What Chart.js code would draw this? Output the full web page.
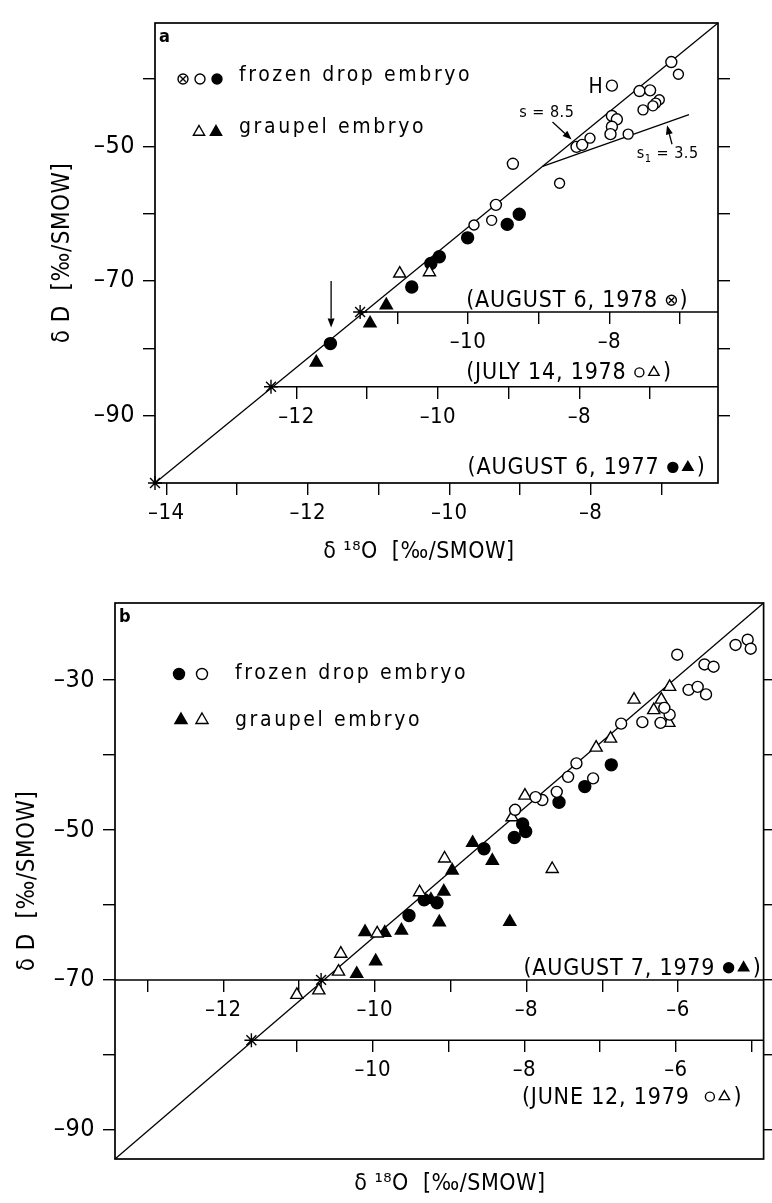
<!DOCTYPE html>
<html lang="en">
<head>
<meta charset="UTF-8">
<title>δD versus δ18O of hailstone embryos</title>
<script src="https://cdn.jsdelivr.net/npm/chart.js"></script>
<style>
  html, body { margin: 0; padding: 0; background: #fff; }
  #wrap { position: relative; width: 772px; height: 1203px; }
  canvas { position: absolute; left: 0; }
  #chartA { top: 0; }
  #chartB { top: 580px; }
</style>
</head>
<body>
<div id="wrap">
  <canvas id="chartA" width="772" height="580"></canvas>
  <canvas id="chartB" width="772" height="623"></canvas>
</div>
<script>
// ---------- panel a (values read on the AUGUST 6, 1977 axis) ----------
const aXMin = -14.16, aXMax = -6.2;
const aYMin = -100, aYMax = -31.7;
const aLineX = [-14.16, -6.2];
const aLineY = [-100, -31.7];
const aBranchX = [-8.68, -6.61];
const aBranchY = [-53.0, -45.3];
const aStarX = [-14.16, -12.52, -11.26];
const aStarY = [-100, -85.7, -74.6];
const aJulShift = 0.16, aAug78Shift = -0.265;   // offset x axes

const aAug78CrossX = [-6.76, -7.03, -7.08, -7.12, -7.26, -8.01, -7.47, -8.44, -9.65, -9.40];
const aAug78CrossY = [-39.3, -43.1, -43.6, -44.0, -44.6, -48.8, -48.2, -55.5, -61.7, -61.0];
const aJulCircX = [-6.86, -7.70, -7.31, -7.16, -7.70, -7.63, -7.70, -7.72, -8.20, -8.12, -9.10, -9.34];
const aJulCircY = [-37.5, -41.0, -41.8, -41.7, -45.5, -46.0, -47.1, -48.2, -50.1, -49.8, -52.6, -58.7];
const aJulTriX = [-10.70, -10.28];
const aJulTriY = [-68.9, -68.7];
const aAug77DotX = [-9.01, -9.18, -9.74, -10.14, -10.26, -10.53, -11.68];
const aAug77DotY = [-60.1, -61.6, -63.6, -66.4, -67.4, -70.9, -79.3];
const aAug77TriX = [-10.89, -11.12, -11.88];
const aAug77TriY = [-73.6, -76.3, -82.1];

const aTicks77 = [-14, -13, -12, -11, -10, -9, -8, -7];
const aLabels77 = [-14, -12, -10, -8];
const aTicksJul = [-12, -11, -10, -9, -8, -7];
const aLabelsJul = [-12, -10, -8];
const aTicksAug78 = [-11, -10, -9, -8, -7];
const aLabelsAug78 = [-10, -8];
const aYTicks = [-90, -80, -70, -60, -50, -40];
const aYLabels = [-90, -70, -50];

// ---------- panel b (values read on the AUGUST 7, 1979 axis) ----------
const bXMin = -13.43, bXMax = -4.87;
const bYMin = -93.9, bYMax = -19.7;
const bLineX = [-13.43, -4.87];
const bLineY = [-93.9, -19.7];
const bStarX = [-11.63, -10.71];
const bStarY = [-78.05, -70];
const bJunShift = 0.027;

const bAugDotX = [-6.88, -7.23, -7.57, -8.05, -8.01, -8.16, -8.56, -9.35, -9.18, -9.55];
const bAugDotY = [-41.3, -44.2, -46.3, -49.2, -50.2, -51.0, -52.5, -59.3, -59.7, -61.4];
const bAugTriX = [-8.71, -8.45, -8.98, -9.26, -9.09, -9.15, -10.13, -9.87, -9.65, -9.99, -10.24, -8.22];
const bAugTriY = [-51.7, -54.1, -55.4, -59.3, -58.2, -62.3, -63.6, -63.7, -63.4, -67.5, -69.2, -62.25];
const bJunCircX = [-5.08, -5.04, -5.24, -6.01, -5.65, -5.53, -5.86, -5.74, -5.63, -6.11, -6.18, -6.23,
                   -6.47, -6.75, -7.34, -7.45, -7.12, -7.60, -7.79, -7.88, -8.15];
const bJunCircY = [-24.6, -25.8, -25.3, -26.6, -27.9, -28.2, -31.3, -30.9, -31.9, -34.6, -33.7, -35.7,
                   -35.6, -35.8, -41.1, -42.9, -43.1, -44.9, -46.0, -45.6, -47.3];
const bJunTriX = [-6.11, -6.58, -6.22, -6.32, -6.12, -6.89, -7.08, -8.02, -8.19, -7.66, -9.08, -9.41,
                  -9.97, -10.45, -10.48, -11.03, -10.74];
const bJunTriY = [-30.9, -32.6, -32.6, -34.0, -35.7, -37.8, -39.0, -45.4, -48.3, -55.2, -53.8, -58.3,
                  -63.8, -66.5, -68.9, -72.0, -71.4];

const bTicksAug7 = [-13, -12, -11, -10, -9, -8, -7, -6];
const bLabelsAug7 = [-12, -10, -8, -6];
const bTicksJun = [-11, -10, -9, -8, -7, -6, -5];
const bLabelsJun = [-10, -8, -6];
const bYTicks = [-90, -80, -70, -60, -50, -40, -30];
const bYLabels = [-90, -70, -50, -30];

// ---------- helpers ----------
const FONT = "'DejaVu Sans Condensed', 'DejaVu Sans', sans-serif";
Chart.defaults.font.family = FONT;
Chart.defaults.color = '#000';

const pts = (xs, ys) => xs.map((x, i) => ({ x: x, y: ys[i] }));
const minus = v => (v < 0 ? '\u2013' : '') + Math.abs(v);

function markSet(xs, ys, style, r, filled) {
  return {
    data: pts(xs, ys), pointStyle: style, pointRadius: r,
    pointBorderColor: '#000', pointBackgroundColor: filled ? '#000' : '#fff',
    pointBorderWidth: 1.4, showLine: false, clip: false, order: 1
  };
}

function lineSet(data, w) {
  return { data: data, showLine: true, pointRadius: 0, borderColor: '#000', borderWidth: w, clip: false, order: 5 };
}

function xAxis(min, max, ticks, labels, extra) {
  return Object.assign({
    type: 'linear', axis: 'x', min: min, max: max,
    afterBuildTicks: s => { s.ticks = ticks.map(v => ({ value: v })); },
    ticks: {
      autoSkip: false, maxRotation: 0, padding: 5, color: '#000',
      font: { family: FONT, size: 22 },
      callback: v => labels.includes(v) ? minus(v) : ''
    },
    grid: { drawOnChartArea: false, drawTicks: true, tickLength: 12, color: '#000', lineWidth: 1.4 },
    border: { display: false }
  }, extra);
}

function yAxis(min, max, ticks, labels, position, width, extra) {
  return Object.assign({
    type: 'linear', axis: 'y', position: position, min: min, max: max,
    afterBuildTicks: s => { s.ticks = ticks.map(v => ({ value: v })); },
    afterFit: s => { s.width = width; },
    ticks: {
      display: labels.length > 0, padding: 8, color: '#000',
      font: { family: FONT, size: 25 },
      callback: v => labels.includes(v) ? minus(v) : ''
    },
    grid: { drawOnChartArea: false, drawTicks: true, tickLength: 12, color: '#000', lineWidth: 1.4 },
    border: { display: false }
  }, extra);
}

function drawMark(ctx, kind, x, y, r) {
  ctx.save();
  ctx.lineWidth = 1.4;
  ctx.strokeStyle = '#000';
  ctx.fillStyle = '#000';
  ctx.beginPath();
  if (kind.startsWith('tri')) {
    ctx.moveTo(x, y - r);
    ctx.lineTo(x + r * 0.866, y + r * 0.5);
    ctx.lineTo(x - r * 0.866, y + r * 0.5);
    ctx.closePath();
  } else {
    ctx.arc(x, y, r, 0, Math.PI * 2);
  }
  if (kind === 'dot' || kind === 'triFill') ctx.fill();
  ctx.stroke();
  if (kind === 'cross') {
    const d = r * 0.55;
    ctx.beginPath();
    ctx.moveTo(x - d, y - d); ctx.lineTo(x + d, y + d);
    ctx.moveTo(x + d, y - d); ctx.lineTo(x - d, y + d);
    ctx.stroke();
  }
  ctx.restore();
}

// text made of pieces: strings, marker names, or {sub: '1'}
function drawPieces(ctx, pieces, x, y, size, spacing) {
  ctx.font = size + 'px ' + FONT;
  ctx.letterSpacing = spacing + 'px';
  ctx.textAlign = 'left';
  ctx.textBaseline = 'alphabetic';
  for (const p of pieces) {
    if (typeof p === 'string') {
      ctx.fillText(p, x, y);
      x += ctx.measureText(p).width;
    } else if (p.sub) {
      ctx.font = Math.round(size * 0.7) + 'px ' + FONT;
      ctx.fillText(p.sub, x, y + size * 0.25);
      x += ctx.measureText(p.sub).width;
      ctx.font = size + 'px ' + FONT;
    } else {
      const r = p.r || size * 0.2;
      drawMark(ctx, p.m, x + r + 1, y - size * 0.3, r);
      x += 2 * r + 4;
    }
  }
}

function drawArrow(ctx, x1, y1, x2, y2) {
  const a = Math.atan2(y2 - y1, x2 - x1), h = 9, w = 3.5;
  ctx.beginPath();
  ctx.moveTo(x1, y1);
  ctx.lineTo(x2 - Math.cos(a) * h, y2 - Math.sin(a) * h);
  ctx.stroke();
  ctx.beginPath();
  ctx.moveTo(x2, y2);
  ctx.lineTo(x2 - Math.cos(a) * h - Math.sin(a) * w, y2 - Math.sin(a) * h + Math.cos(a) * w);
  ctx.lineTo(x2 - Math.cos(a) * h + Math.sin(a) * w, y2 - Math.sin(a) * h - Math.cos(a) * w);
  ctx.closePath();
  ctx.fill();
}

// frame, panel letter, legend, date labels and notes
function notesPlugin(cfg) {
  return {
    id: 'notes',
    beforeDraw(chart) { chart.ctx.letterSpacing = '0.5px'; },
    afterDraw(chart) {
      const ctx = chart.ctx, area = chart.chartArea;
      const px = v => chart.scales.x.getPixelForValue(v);
      const py = v => chart.scales.y.getPixelForValue(v);
      ctx.save();
      ctx.strokeStyle = '#000';
      ctx.fillStyle = '#000';
      ctx.lineWidth = 1.7;
      ctx.strokeRect(area.left, area.top, area.right - area.left, area.bottom - area.top);

      ctx.letterSpacing = '0px';
      ctx.font = 'bold 18px ' + FONT;
      ctx.textBaseline = 'alphabetic';
      ctx.fillText(cfg.letter, area.left + 4, area.top + 19);

      for (const row of cfg.legend) {
        for (const [kind, dx] of row.marks) drawMark(ctx, kind, area.left + dx, area.top + row.dy, row.r);
        drawPieces(ctx, [row.text], area.left + row.tx, area.top + row.ty, 21, 2.6);
      }
      for (const lab of cfg.labels) drawPieces(ctx, lab.pieces, px(lab.x), py(lab.y), 23, 0.8);
      for (const t of cfg.texts) drawPieces(ctx, t.pieces, px(t.x), py(t.y), t.size, 0.5);
      ctx.lineWidth = 1.3;
      for (const a of cfg.arrows) drawArrow(ctx, px(a[0]), py(a[1]), px(a[2]), py(a[3]));
      ctx.restore();
      ctx.letterSpacing = '0px';
    }
  };
}

const commonOptions = {
  responsive: false, animation: false, events: [],
  plugins: { legend: { display: false }, tooltip: { enabled: false } }
};

// ---------- chart a ----------
new Chart(document.getElementById('chartA'), {
  type: 'scatter',
  data: {
    datasets: [
      markSet(aAug78CrossX, aAug78CrossY, 'circle', 5, false),
      markSet(aAug78CrossX, aAug78CrossY, 'crossRot', 3.2, false),
      markSet(aJulCircX, aJulCircY, 'circle', 5.5, false),
      markSet(aJulTriX, aJulTriY, 'triangle', 7, false),
      markSet(aAug77DotX, aAug77DotY, 'circle', 6, true),
      markSet(aAug77TriX, aAug77TriY, 'triangle', 7, true),
      markSet(aStarX, aStarY, 'star', 7, false),
      lineSet(pts(aLineX, aLineY), 1.3),
      lineSet(pts(aBranchX, aBranchY), 1.3),
      lineSet([{ x: aStarX[1], y: aStarY[1] }, { x: aXMax, y: aStarY[1] }], 1.5),
      lineSet([{ x: aStarX[2], y: aStarY[2] }, { x: aXMax, y: aStarY[2] }], 1.5)
    ]
  },
  options: Object.assign({}, commonOptions, {
    layout: { padding: { top: 7, left: 0, right: 0, bottom: 0 } },
    scales: {
      x: xAxis(aXMin, aXMax, aTicks77, aLabels77, {
        position: 'bottom',
        afterFit: s => { s.height = 97; },
        title: { display: true, text: 'δ ¹⁸O  [‰/SMOW]     ', color: '#000',
                 font: { family: FONT, size: 23 }, padding: { top: 0, bottom: 14 } }
      }),
      xJul: xAxis(aXMin + aJulShift, aXMax + aJulShift, aTicksJul, aLabelsJul, { position: { y: aStarY[1] } }),
      xAug78: xAxis(aXMin + aAug78Shift, aXMax + aAug78Shift, aTicksAug78, aLabelsAug78, { position: { y: aStarY[2] } }),
      y: yAxis(aYMin, aYMax, aYTicks, aYLabels, 'left', 155, {
        title: { display: true, text: 'δ D  [‰/SMOW]', color: '#000',
                 font: { family: FONT, size: 24 }, padding: { top: 48, bottom: 0 } }
      }),
      yR: yAxis(aYMin, aYMax, aYTicks, [], 'right', 54)
    }
  }),
  plugins: [notesPlugin({
    letter: 'a',
    legend: [
      { marks: [['cross', 28], ['circle', 45], ['dot', 62]], dy: 56, r: 5, text: 'frozen drop embryo', tx: 84, ty: 58 },
      { marks: [['tri', 44], ['triFill', 61]], dy: 109, r: 6.5, text: 'graupel embryo', tx: 84, ty: 110 }
    ],
    labels: [
      { x: -9.76, y: -73.9, pieces: ['(AUGUST 6, 1978 ', { m: 'cross', r: 5 }, ')'] },
      { x: -9.76, y: -84.6, pieces: ['(JULY 14, 1978 ', { m: 'circle', r: 4.5 }, { m: 'tri', r: 6 }, ')'] },
      { x: -9.74, y: -98.7, pieces: ['(AUGUST 6, 1977 ', { m: 'dot', r: 5 }, { m: 'triFill', r: 6 }, ')'] }
    ],
    texts: [
      { x: -8.03, y: -42.1, size: 21, pieces: ['H'] },
      { x: -9.01, y: -45.7, size: 16, pieces: ['s = 8.5'] },
      { x: -7.35, y: -51.7, size: 16, pieces: ['s', { sub: '1' }, ' = 3.5'] }
    ],
    arrows: [
      [-8.54, -46.4, -8.27, -49.0],
      [-6.85, -49.7, -6.92, -46.9],
      [-11.67, -70.0, -11.67, -76.9]
    ]
  })]
});

// ---------- chart b ----------
new Chart(document.getElementById('chartB'), {
  type: 'scatter',
  data: {
    datasets: [
      markSet(bJunCircX, bJunCircY, 'circle', 5.5, false),
      markSet(bJunTriX, bJunTriY, 'triangle', 7, false),
      markSet(bAugDotX, bAugDotY, 'circle', 6, true),
      markSet(bAugTriX, bAugTriY, 'triangle', 7, true),
      markSet(bStarX, bStarY, 'star', 7, false),
      lineSet(pts(bLineX, bLineY), 1.3),
      lineSet([{ x: bStarX[0], y: bStarY[0] }, { x: bXMax, y: bStarY[0] }], 1.5),
      lineSet([{ x: bXMin, y: bStarY[1] }, { x: bXMax, y: bStarY[1] }], 1.5)
    ]
  },
  options: Object.assign({}, commonOptions, {
    layout: { padding: { top: 17, left: 0, right: 0, bottom: 0 } },
    scales: {
      x: xAxis(bXMin, bXMax, [], [], {
        position: 'bottom',
        afterFit: s => { s.height = 44; },
        title: { display: true, text: '   δ ¹⁸O  [‰/SMOW]', color: '#000',
                 font: { family: FONT, size: 23 }, padding: { top: 0, bottom: 5 } }
      }),
      xAug7: xAxis(bXMin, bXMax, bTicksAug7, bLabelsAug7, { position: { y: bStarY[1] } }),
      xJun: xAxis(bXMin + bJunShift, bXMax + bJunShift, bTicksJun, bLabelsJun, { position: { y: bStarY[0] } }),
      y: yAxis(bYMin, bYMax, bYTicks, bYLabels, 'left', 115, {
        title: { display: true, text: 'δ D  [‰/SMOW]', color: '#000',
                 font: { family: FONT, size: 24 }, padding: { top: 13, bottom: 0 } }
      }),
      yR: yAxis(bYMin, bYMax, bYTicks, [], 'right', 3)
    }
  }),
  plugins: [notesPlugin({
    letter: 'b',
    legend: [
      { marks: [['dot', 64], ['circle', 87]], dy: 71, r: 5.5, text: 'frozen drop embryo', tx: 120, ty: 76 },
      { marks: [['triFill', 66], ['tri', 87]], dy: 117, r: 7, text: 'graupel embryo', tx: 120, ty: 123 }
    ],
    labels: [
      { x: -8.04, y: -69.3, pieces: ['(AUGUST 7, 1979 ', { m: 'dot', r: 5 }, { m: 'triFill', r: 6 }, ')'] },
      { x: -8.06, y: -86.5, pieces: ['(JUNE 12, 1979  ', { m: 'circle', r: 4.5 }, { m: 'tri', r: 6 }, ')'] }
    ],
    texts: [],
    arrows: []
  })]
});
</script>
</body>
</html>
